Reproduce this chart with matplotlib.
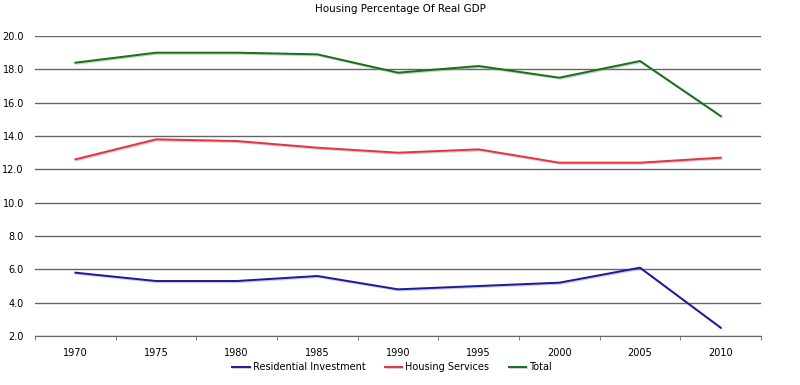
import matplotlib
matplotlib.use("Agg")
import matplotlib.pyplot as plt
import matplotlib.patheffects as pe
import numpy as np

years = ["1970", "1975", "1980", "1985", "1990", "1995", "2000", "2005", "2010"]
residential = [5.8, 5.3, 5.3, 5.6, 4.8, 5.0, 5.2, 6.1, 2.5]
services = [12.6, 13.8, 13.7, 13.3, 13.0, 13.2, 12.4, 12.4, 12.7]
total = [18.4, 19.0, 19.0, 18.9, 17.8, 18.2, 17.5, 18.5, 15.2]
yticks = [2.0, 4.0, 6.0, 8.0, 10.0, 12.0, 14.0, 16.0, 18.0, 20.0]

fig = plt.figure(figsize=(8, 3.85), dpi=100)
ax = fig.add_axes([35/800, 1-336/385, (761-35)/800, 300/385])

x = np.arange(len(years))
shadow = [pe.SimpleLineShadow(offset=(0.8, -0.8), shadow_color="#999999", alpha=0.5), pe.Normal()]
ax.plot(x, residential, color="#1a1a9e", lw=1.4, label="Residential Investment", path_effects=shadow)
ax.plot(x, services, color="#e8333f", lw=1.4, label="Housing Services", path_effects=shadow)
ax.plot(x, total, color="#17701a", lw=1.4, label="Total", path_effects=shadow)

ax.set_xlim(-0.5, len(years) - 0.5)
ax.set_ylim(2.0, 20.0)
ax.set_yticks(yticks)
ax.set_yticklabels([f"{v:.1f}" for v in yticks])
ax.set_xticks(x)
ax.set_xticklabels(years)
ax.set_xticks(np.arange(-0.5, len(years)), minor=True)
ax.tick_params(axis="x", which="major", length=0, labelsize=7, pad=9)
ax.tick_params(axis="x", which="minor", length=3, color="#666666")
ax.tick_params(axis="y", length=0, labelsize=7, pad=8)
ax.yaxis.grid(True, color="#666666", lw=1)
ax.set_axisbelow(True)
for s in ["top", "left", "right"]:
    ax.spines[s].set_visible(False)
ax.spines["bottom"].set_color("#666666")

fig.text(0.5, 1-9/385, "Housing Percentage Of Real GDP", ha="center", va="center", fontsize=7.5)
fig.legend(loc="center", bbox_to_anchor=(0.49, 1-367/385), ncol=3, frameon=False,
           fontsize=7, handlelength=1.8, columnspacing=2.0, handletextpad=0.3)

fig.savefig("out.png", dpi=100)
